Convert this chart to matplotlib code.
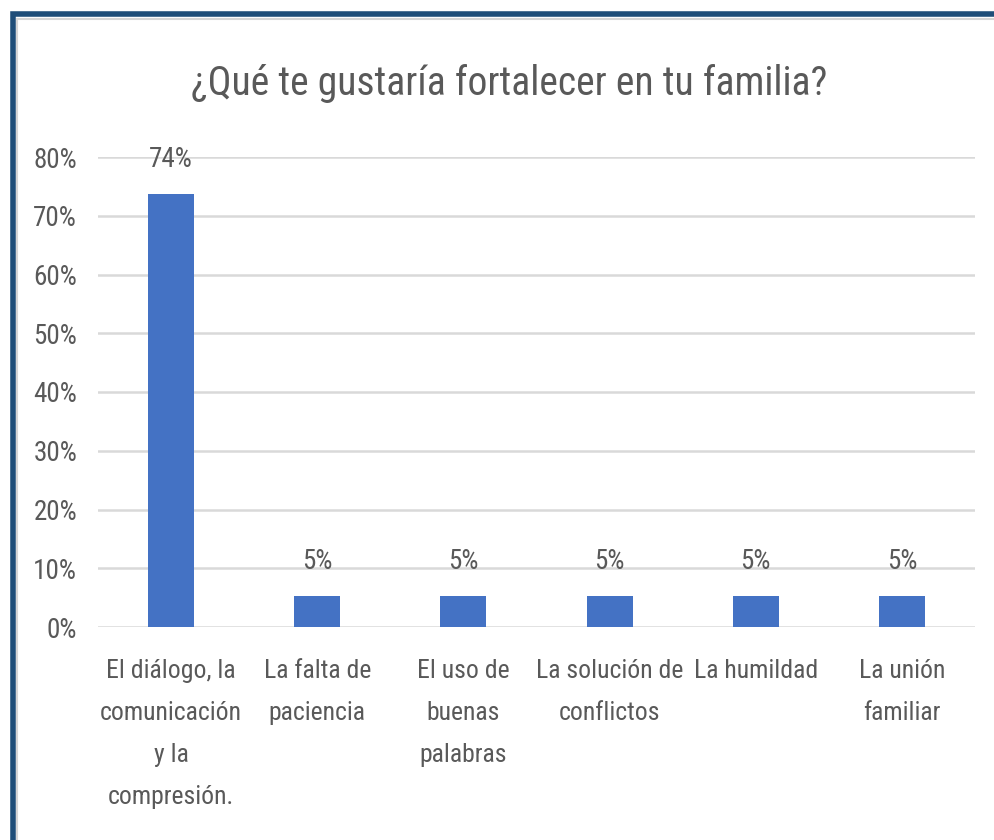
import matplotlib
matplotlib.use("Agg")
import matplotlib.pyplot as plt
from matplotlib import font_manager
from matplotlib.lines import Line2D
from matplotlib.ticker import FuncFormatter

# ── data ──────────────────────────────────────────────────────────────────────
categories = [
    "El diálogo, la\ncomunicación\ny la\ncompresión.",
    "La falta de\npaciencia",
    "El uso de\nbuenas\npalabras",
    "La solución de\nconflictos",
    "La humildad",
    "La unión\nfamiliar",
]
shares = [14 / 19, 1 / 19, 1 / 19, 1 / 19, 1 / 19, 1 / 19]
yticks = [0, 0.1, 0.2, 0.3, 0.4, 0.5, 0.6, 0.7, 0.8]

TITLE = "¿Qué te gustaría fortalecer en tu familia?"
BAR_COLOR = "#4472c4"
TEXT_COLOR = "#595959"
GRID_COLOR = "#d9d9d9"
FRAME_COLOR = "#1f4e79"

# narrow face if present, otherwise plain sans
names = {f.name for f in font_manager.fontManager.ttflist}
family = [n for n in ("Roboto Condensed", "PT Sans Narrow") if n in names][:1]
plt.rcParams["font.family"] = family + ["DejaVu Sans"]

W, H = 995, 840
fig = plt.figure(figsize=(W / 100, H / 100), dpi=100)
fig.patch.set_facecolor("white")

ax = fig.add_axes([98 / W, 1 - 627 / H, 877 / W, 470 / H])
x = range(len(categories))
bars = ax.bar(x, shares, width=0.315, color=BAR_COLOR, zorder=3)

for b, v in zip(bars, shares):
    ax.annotate(f"{v:.0%}", (b.get_x() + b.get_width() / 2, v),
                xytext=(0, 25), textcoords="offset points",
                ha="center", va="center", fontsize=19.5, color=TEXT_COLOR)

ax.set_xlim(-0.5, len(categories) - 0.5)
ax.set_ylim(0, 0.8)
ax.set_yticks(yticks)
ax.yaxis.set_major_formatter(FuncFormatter(lambda v, _: f"{v:.0%}"))
ax.set_xticks(list(x))
ax.set_xticklabels(categories, linespacing=1.95)
ax.tick_params(axis="both", length=0, colors=TEXT_COLOR)
ax.tick_params(axis="y", pad=15, labelsize=19.5)
ax.tick_params(axis="x", pad=23, labelsize=18.5)
for lbl in ax.get_xticklabels():
    lbl.set_verticalalignment("top")

ax.grid(axis="y", color=GRID_COLOR, linewidth=1.8, zorder=0)
ax.set_axisbelow(True)
for s in ax.spines.values():
    s.set_visible(False)

fig.text(0.512, 1 - 83 / H, TITLE, ha="center", va="center",
         fontsize=28.5, color=TEXT_COLOR)

# frame: dark blue on top and left, thin grey inner edge
def frame_edge(x0, y0, color, lw):
    xf, yf = x0 / W, 1 - y0 / H
    fig.add_artist(Line2D([xf, xf, 1.05], [-0.05, yf, yf], color=color,
                          linewidth=lw, solid_joinstyle="miter",
                          transform=fig.transFigure))

frame_edge(17, 18.5, "#d6d6d6", 1.5)
frame_edge(12.5, 13.5, FRAME_COLOR, 4)

fig.savefig("out.png", dpi=100)
